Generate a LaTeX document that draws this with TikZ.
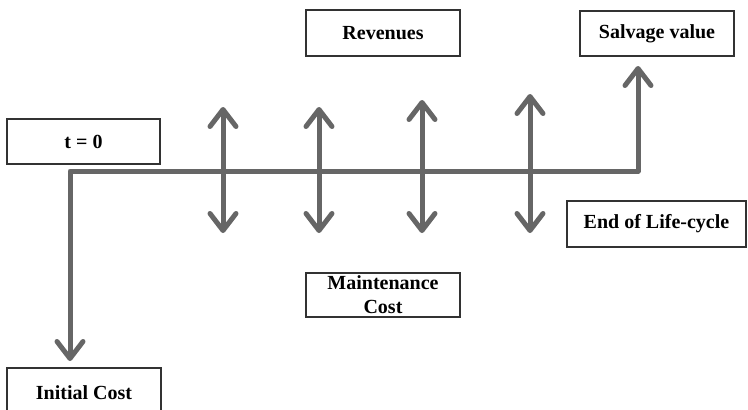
\documentclass[tikz,border=0pt]{standalone}
\usepackage{fontspec}
\setmainfont{Liberation Serif}
\usetikzlibrary{arrows.meta}
\definecolor{flowgray}{RGB}{102,102,102}
\definecolor{boxgray}{RGB}{50,50,50}
\begin{document}
\begin{tikzpicture}[x=1pt,y=-1pt,
	>={Straight Barb[length=17pt, width=26pt, line width=5pt, round]},
	box/.style={draw=boxgray, line width=2pt, fill=white, inner sep=0pt, align=center,
		font=\fontsize{20}{24}\selectfont\bfseries},
	flow/.style={draw=flowgray, line width=5pt, line join=round, <->}]
	\useasboundingbox (0,0) rectangle (748,410);
	% boxes
	\node [box, minimum width=153pt, minimum height=45pt] (tzero) at (83.5,141.5) {t = 0};
	\node [box, minimum width=154pt, minimum height=46pt] (rev) at (383,33) {Revenues};
	\node [box, minimum width=154pt, minimum height=45pt] (salv) at (657,33.5) {Salvage value};
	\node [box, minimum width=179pt, minimum height=46pt] (eol) at (656.5,224) {End of Life-cycle};
	\node [box, minimum width=154pt, minimum height=44pt] (maint) at (383,295) {Maintenance\\Cost};
	\node [box, minimum width=154pt, minimum height=50pt] (init) at (84,393) {Initial Cost};
	% time line
	\coordinate (start) at (70,171);
	\coordinate (finish) at (638,171);
	\draw [flow] ([yshift=6pt]start |- init.north) -- (start) -- (finish) -- ([yshift=-9pt]finish |- salv.south);
	% yearly cash flows
	\foreach \x/\top in {223/107, 319/107, 422/100, 530/94}
		\draw [flow] (\x,\top) -- (\x,233);
\end{tikzpicture}
\end{document}
